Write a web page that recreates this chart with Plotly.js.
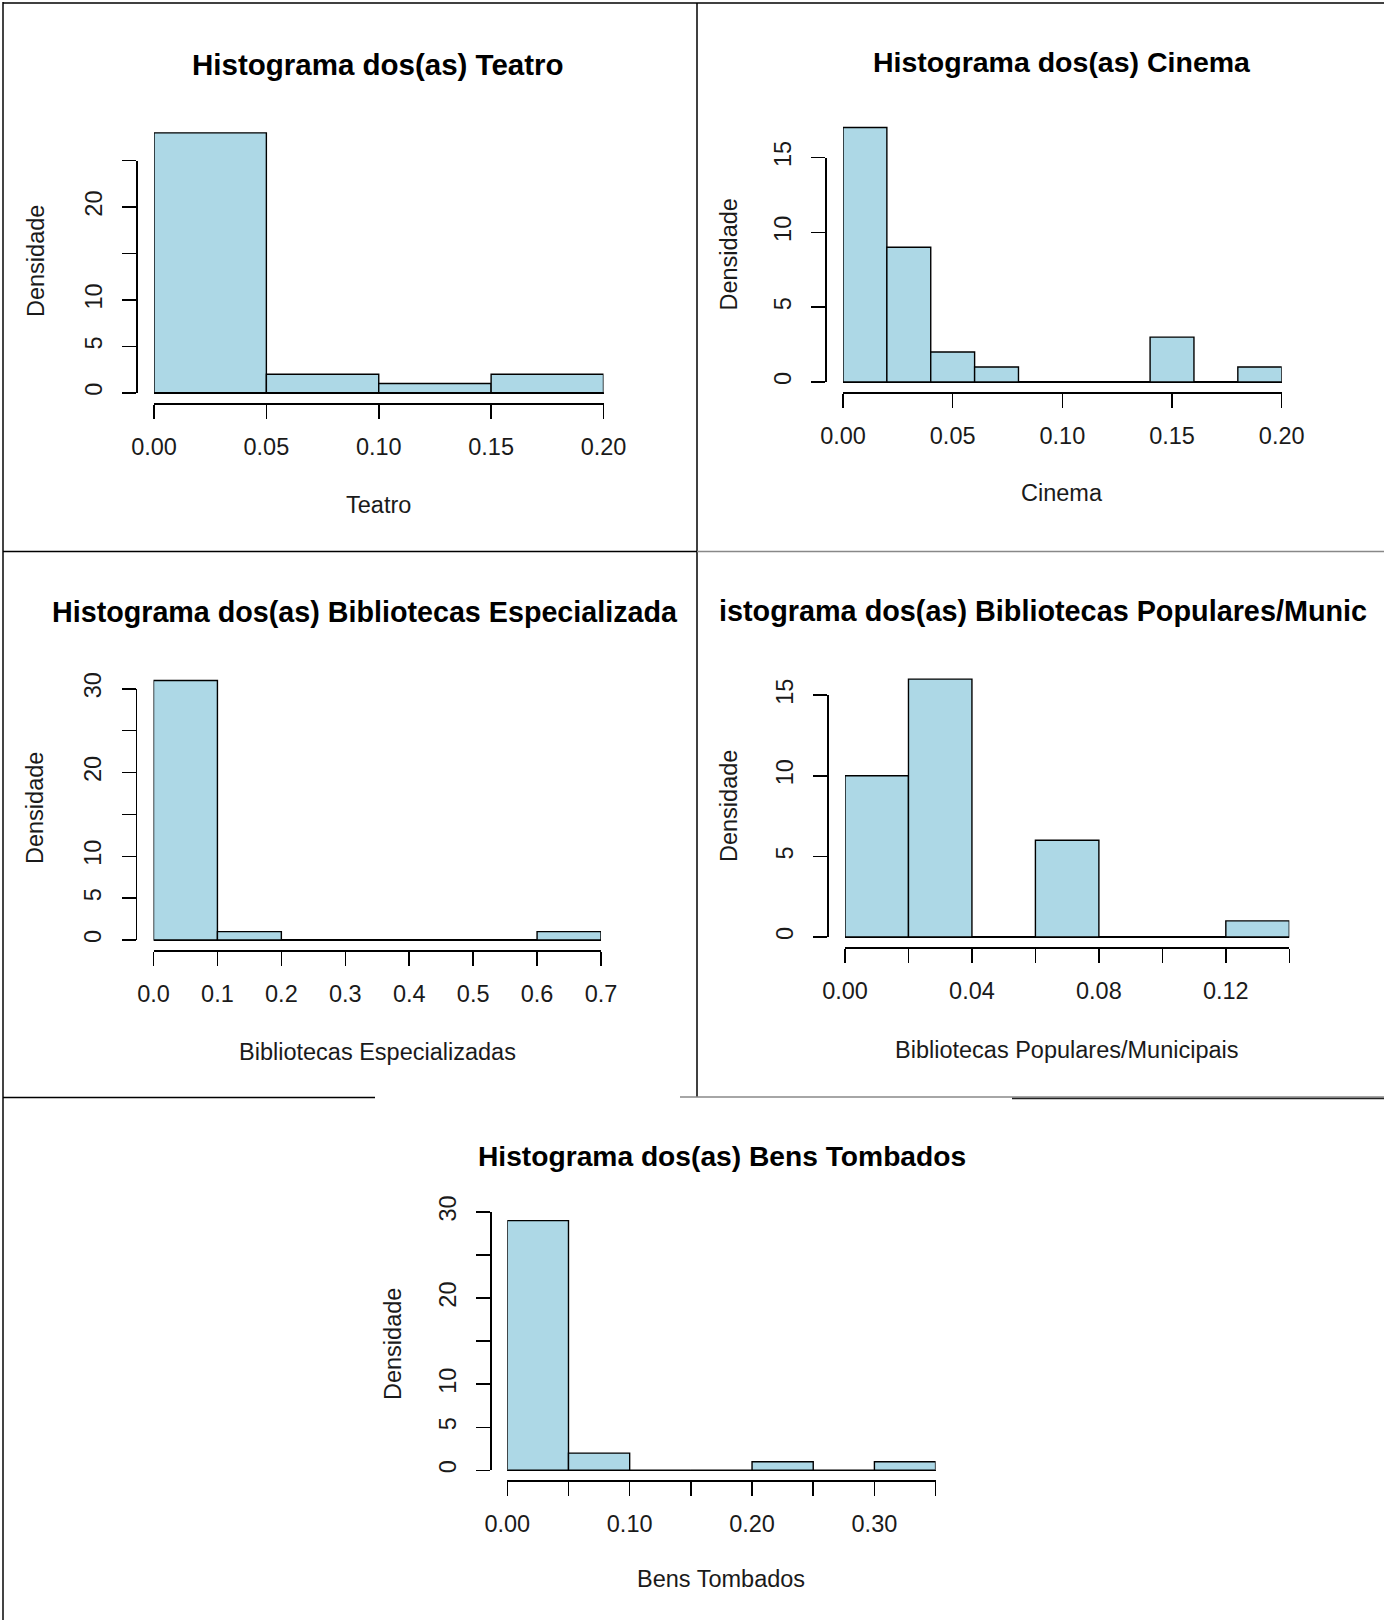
<!DOCTYPE html>
<html><head><meta charset="utf-8">
<script src="https://cdn.plot.ly/plotly-3.0.1.min.js"></script>
<style>html,body{margin:0;padding:0;background:#fff}</style>
</head><body><div id="chart" style="width:1384px;height:1620px"></div>
<script>
// ---------------- DATA ----------------
const teatroEdges = [0, 0.05, 0.10, 0.15, 0.20];
const teatroDens  = [28, 2, 1, 2];
const cinemaEdges = [0, 0.02, 0.04, 0.06, 0.08, 0.10, 0.12, 0.14, 0.16, 0.18, 0.20];
const cinemaDens  = [17, 9, 2, 1, 0, 0, 0, 3, 0, 1];
const bibEspEdges = [0, 0.1, 0.2, 0.3, 0.4, 0.5, 0.6, 0.7];
const bibEspDens  = [31, 1, 0, 0, 0, 0, 1];
const bibPopEdges = [0, 0.02, 0.04, 0.06, 0.08, 0.10, 0.12, 0.14];
const bibPopDens  = [10, 16, 0, 6, 0, 0, 1];
const bensEdges   = [0, 0.05, 0.10, 0.15, 0.20, 0.25, 0.30, 0.35];
const bensDens    = [29, 2, 0, 0, 1, 0, 1];

const teatroXTicks  = [0, 0.05, 0.10, 0.15, 0.20];
const teatroXLabels = ['0.00', '0.05', '0.10', '0.15', '0.20'];
const teatroYTicks  = [0, 5, 10, 15, 20, 25];
const teatroYLabels = ['0', '5', '10', '', '20', ''];

const cinemaXTicks  = [0, 0.05, 0.10, 0.15, 0.20];
const cinemaXLabels = ['0.00', '0.05', '0.10', '0.15', '0.20'];
const cinemaYTicks  = [0, 5, 10, 15];
const cinemaYLabels = ['0', '5', '10', '15'];

const bibEspXTicks  = [0, 0.1, 0.2, 0.3, 0.4, 0.5, 0.6, 0.7];
const bibEspXLabels = ['0.0', '0.1', '0.2', '0.3', '0.4', '0.5', '0.6', '0.7'];
const bibEspYTicks  = [0, 5, 10, 15, 20, 25, 30];
const bibEspYLabels = ['0', '5', '10', '', '20', '', '30'];

const bibPopXTicks  = [0, 0.02, 0.04, 0.06, 0.08, 0.10, 0.12, 0.14];
const bibPopXLabels = ['0.00', '', '0.04', '', '0.08', '', '0.12', ''];
const bibPopYTicks  = [0, 5, 10, 15];
const bibPopYLabels = ['0', '5', '10', '15'];

const bensXTicks  = [0, 0.05, 0.10, 0.15, 0.20, 0.25, 0.30, 0.35];
const bensXLabels = ['0.00', '', '0.10', '', '0.20', '', '0.30', ''];
const bensYTicks  = [0, 5, 10, 15, 20, 25, 30];
const bensYLabels = ['0', '5', '10', '', '20', '', '30'];

const titles = [
  'Histograma dos(as) Teatro',
  'Histograma dos(as) Cinema',
  'Histograma dos(as) Bibliotecas Especializada',
  'istograma dos(as) Bibliotecas Populares/Munic',
  'Histograma dos(as) Bens Tombados'
];
const xTitles = ['Teatro', 'Cinema', 'Bibliotecas Especializadas', 'Bibliotecas Populares/Municipais', 'Bens Tombados'];
const yTitle = 'Densidade';

// ---------------- LAYOUT (pixel anchors) ----------------
const W = 1384, H = 1620;
const fx = p => p / W;
const fy = p => 1 - p / H;

const panels = [
  {edges: teatroEdges, dens: teatroDens, xt: teatroXTicks, xl: teatroXLabels, yt: teatroYTicks, yl: teatroYLabels,
   px0: 154, px1: 603.5, py0: 392.8, pyTop: 160.7, titleX: 378.5, titleY: 64, tAnchor: 'center', tSize: 29.5,
   xTitleY: 505, yTitleX: 36, yTitleY: 261},
  {edges: cinemaEdges, dens: cinemaDens, xt: cinemaXTicks, xl: cinemaXLabels, yt: cinemaYTicks, yl: cinemaYLabels,
   px0: 843, px1: 1281.7, py0: 382, pyTop: 157.5, titleX: 1062, titleY: 62.5, tAnchor: 'center', tSize: 28.5,
   xTitleY: 493, yTitleX: 728.5, yTitleY: 254},
  {edges: bibEspEdges, dens: bibEspDens, xt: bibEspXTicks, xl: bibEspXLabels, yt: bibEspYTicks, yl: bibEspYLabels,
   px0: 153.5, px1: 601, py0: 940, pyTop: 688.8, titleX: 50, titleY: 612, tAnchor: 'left', tSize: 28.7,
   xTitleY: 1052, yTitleX: 35, yTitleY: 808},
  {edges: bibPopEdges, dens: bibPopDens, xt: bibPopXTicks, xl: bibPopXLabels, yt: bibPopYTicks, yl: bibPopYLabels,
   px0: 845, px1: 1289.3, py0: 937, pyTop: 695.2, titleX: 717, titleY: 611, tAnchor: 'left', tSize: 28.8,
   xTitleY: 1050, yTitleX: 729, yTitleY: 806},
  {edges: bensEdges, dens: bensDens, xt: bensXTicks, xl: bensXLabels, yt: bensYTicks, yl: bensYLabels,
   px0: 507.3, px1: 935.6, py0: 1470.3, pyTop: 1212, titleX: 721.5, titleY: 1156, tAnchor: 'center', tSize: 28.2,
   xTitleY: 1579, yTitleX: 393, yTitleY: 1344}
];

const FONT = 'Liberation Sans, Arial, Helvetica, sans-serif';
const TICKFS = 23.5, LABFS = 23.5;
const BARFILL = '#ADD8E6';

const traces = [];
const layout = {
  width: W, height: H,
  margin: {l: 0, r: 0, t: 0, b: 0, pad: 0},
  paper_bgcolor: '#fff', plot_bgcolor: 'rgba(0,0,0,0)',
  showlegend: false,
  font: {family: FONT, color: '#000', size: TICKFS},
  annotations: [], shapes: []
};

panels.forEach((P, i) => {
  const a = 2 * i + 1, b = 2 * i + 2;
  const xmin = P.edges[0], xmax = P.edges[P.edges.length - 1];
  const ymax = Math.max(...P.dens);
  const ytop = P.yt[P.yt.length - 1];
  const ppu = (P.py0 - P.pyTop) / ytop;           // pixels per density unit
  // R-style plot region (4% extension)
  const yAxisX = P.px0 - 0.04 * (P.px1 - P.px0);
  const xAxisY = P.py0 + 0.04 * ymax * ppu;

  const centers = P.dens.map((_, k) => (P.edges[k] + P.edges[k + 1]) / 2);
  const widths = P.dens.map((_, k) => P.edges[k + 1] - P.edges[k]);

  traces.push({
    type: 'bar', x: centers, y: P.dens, width: widths,
    marker: {color: BARFILL, line: {color: '#000', width: 1.4}},
    xaxis: 'x' + a, yaxis: 'y' + a, hoverinfo: 'skip'
  });
  traces.push({type: 'scatter', mode: 'markers', x: [], y: [], xaxis: 'x' + b, yaxis: 'y' + b, hoverinfo: 'skip'});

  const yr0 = -0.04 * ymax, yr1 = 1.12 * ymax;
  const kx = a === 1 ? 'xaxis' : 'xaxis' + a;
  const ky = a === 1 ? 'yaxis' : 'yaxis' + a;
  layout[kx] = {
    domain: [fx(P.px0), fx(P.px1)], range: [xmin, xmax], anchor: 'y' + a,
    showticklabels: false, ticks: '', showline: false, showgrid: false, zeroline: false, fixedrange: true
  };
  layout[ky] = {
    domain: [fy(P.py0 - yr0 * ppu), fy(P.py0 - yr1 * ppu)], range: [yr0, yr1], anchor: 'x' + a,
    showticklabels: false, ticks: '', showline: false, showgrid: false,
    zeroline: true, zerolinecolor: '#000', zerolinewidth: 1.4, fixedrange: true
  };
  layout['xaxis' + b] = {
    domain: [fx(P.px0), fx(P.px1)], range: [xmin, xmax], anchor: 'free', position: fy(xAxisY), side: 'bottom',
    tickmode: 'array', tickvals: P.xt, ticktext: P.xl, ticks: 'outside', ticklen: 14, tickwidth: 1.5, tickcolor: '#000',
    showline: true, linecolor: '#000', linewidth: 1.5, showgrid: false, zeroline: false,
    tickfont: {family: FONT, size: TICKFS, color: '#1a1a1a'}, ticklabelstandoff: 8, fixedrange: true
  };
  layout['yaxis' + b] = {
    domain: [fy(P.py0), fy(P.pyTop)], range: [0, ytop], anchor: 'free', position: fx(yAxisX), side: 'left',
    tickmode: 'array', tickvals: P.yt, ticktext: P.yl, ticks: 'outside', ticklen: 14, tickwidth: 1.5, tickcolor: '#000',
    showline: true, linecolor: '#000', linewidth: 1.5, showgrid: false, zeroline: false, tickangle: -90,
    tickfont: {family: FONT, size: TICKFS, color: '#1a1a1a'}, ticklabelstandoff: 11, fixedrange: true
  };

  layout.annotations.push({
    xref: 'paper', yref: 'paper', x: fx(P.titleX), y: fy(P.titleY), xanchor: P.tAnchor, yanchor: 'middle',
    text: '<b>' + titles[i] + '</b>', showarrow: false, font: {family: FONT, size: P.tSize, color: '#000'}
  });
  layout.annotations.push({
    xref: 'paper', yref: 'paper', x: fx((P.px0 + P.px1) / 2), y: fy(P.xTitleY), xanchor: 'center', yanchor: 'middle',
    text: xTitles[i], showarrow: false, font: {family: FONT, size: LABFS, color: '#1a1a1a'}
  });
  layout.annotations.push({
    xref: 'paper', yref: 'paper', x: fx(P.yTitleX), y: fy(P.yTitleY), xanchor: 'center', yanchor: 'middle',
    text: yTitle, textangle: -90, showarrow: false, font: {family: FONT, size: LABFS, color: '#1a1a1a'}
  });
});

// panel frame lines of the collage
function seg(x0, y0, x1, y1, color, w) {
  layout.shapes.push({type: 'line', xref: 'paper', yref: 'paper', x0: fx(x0), y0: fy(y0), x1: fx(x1), y1: fy(y1),
    line: {color: color, width: w}});
}
seg(3, 2, 3, 1620, '#444', 2);
seg(3, 3, 1384, 3, '#000', 1.5);
seg(697, 3, 697, 1097, '#000', 1.5);
seg(3, 551.5, 697, 551.5, '#000', 1.5);
seg(697, 551.5, 1384, 551.5, '#888', 1.5);
seg(3, 1097.5, 375, 1097.5, '#000', 1.5);
seg(680, 1097, 1384, 1097, '#888', 1.5);
seg(1012, 1098.5, 1384, 1098.5, '#222', 1.5);

Plotly.newPlot('chart', traces, layout, {staticPlot: true, displayModeBar: false});
</script>
</body></html>
